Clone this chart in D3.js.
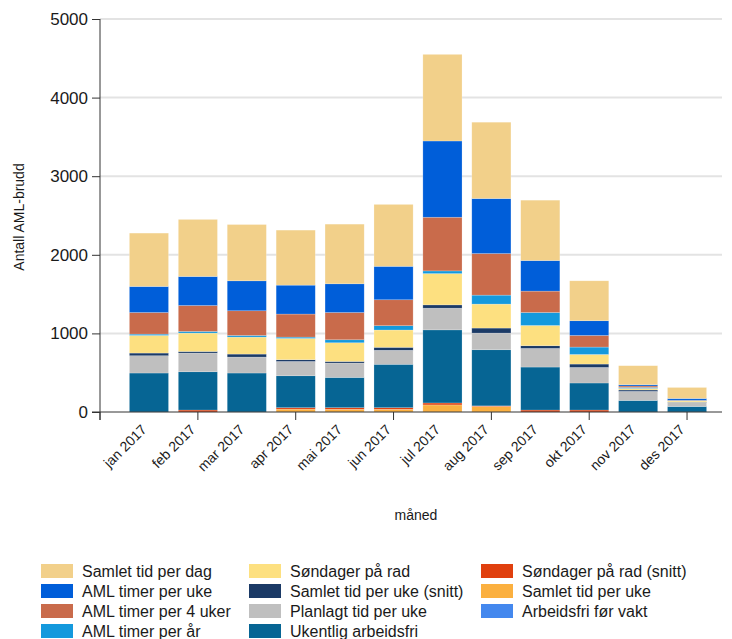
<!DOCTYPE html>
<html>
<head>
<meta charset="utf-8">
<script src="https://cdn.jsdelivr.net/npm/d3@7"></script>
<style>
  body { margin: 0; background: #fff; }
  text { font-family: "Liberation Sans", Arial, sans-serif; fill: #1a1a1a; }
</style>
</head>
<body>
<script>
// months on the x axis
const months = ['jan 2017', 'feb 2017', 'mar 2017', 'apr 2017', 'mai 2017', 'jun 2017',
                'jul 2017', 'aug 2017', 'sep 2017', 'okt 2017', 'nov 2017', 'des 2017'];

// series names, bottom of the stack first
const seriesNames = ['Arbeidsfri før vakt', 'Samlet tid per uke', 'Søndager på rad (snitt)',
  'Ukentlig arbeidsfri', 'Planlagt tid per uke', 'Samlet tid per uke (snitt)', 'Søndager på rad',
  'AML timer per år', 'AML timer per 4 uker', 'AML timer per uke', 'Samlet tid per dag'];

// values per series, one per month
const arbeidsfriForVakt   = [0, 0, 0, 0, 0, 0, 0, 0, 0, 0, 0, 0];
const samletTidUke        = [0, 0, 0, 37, 35, 35, 90, 70, 0, 0, 0, 0];
const sondagerSnitt       = [0, 25, 0, 18, 20, 20, 25, 8, 25, 25, 0, 0];
const ukentligArbeidsfri  = [496, 487, 496, 406, 385, 552, 930, 714, 547, 344, 147, 70];
const planlagtTidUke      = [220, 238, 203, 182, 183, 178, 276, 212, 237, 198, 115, 50];
const samletTidUkeSnitt   = [34, 20, 38, 22, 20, 38, 42, 64, 34, 43, 18, 5];
const sondagerPaRad       = [224, 234, 216, 271, 238, 220, 398, 305, 258, 122, 20, 15];
const amlTimerAr          = [17, 21, 21, 17, 38, 55, 34, 114, 165, 94, 13, 5];
const amlTimer4Uker       = [275, 330, 314, 293, 347, 330, 683, 529, 272, 148, 18, 5];
const amlTimerUke         = [331, 369, 381, 368, 365, 425, 970, 700, 389, 187, 16, 22];
const samletTidDag        = [679, 726, 716, 700, 759, 788, 1102, 971, 768, 508, 242, 140];

const seriesValues = [arbeidsfriForVakt, samletTidUke, sondagerSnitt, ukentligArbeidsfri,
  planlagtTidUke, samletTidUkeSnitt, sondagerPaRad, amlTimerAr, amlTimer4Uker, amlTimerUke, samletTidDag];

const colors = ['#4488ee', '#fbb040', '#e0400e', '#066594', '#bfbfbf', '#1b3a66', '#fde080',
                '#1499dd', '#c96b4b', '#005ed9', '#f2d08a'];

// legend is read column by column, top of the stack first
const legendOrder = ['Samlet tid per dag', 'AML timer per uke', 'AML timer per 4 uker', 'AML timer per år',
  'Søndager på rad', 'Samlet tid per uke (snitt)', 'Planlagt tid per uke', 'Ukentlig arbeidsfri',
  'Søndager på rad (snitt)', 'Samlet tid per uke', 'Arbeidsfri før vakt'];

const yTicks = [0, 1000, 2000, 3000, 4000, 5000];

const width = 732, height = 639;

const svg = d3.select('body')
  .append('svg')
  .attr('width', width)
  .attr('height', height);

// build table for d3.stack
const table = months.map((m, i) => {
  const row = { month: m };
  seriesNames.forEach((s, j) => { row[s] = seriesValues[j][i]; });
  return row;
});
const stacked = d3.stack().keys(seriesNames)(table);

const x = d3.scaleBand()
  .domain(months)
  .range([124.5, 711.5])
  .paddingInner(0.2)
  .paddingOuter(0.1);

const y = d3.scaleLinear()
  .domain([0, 5000])
  .range([412, 19]);

const color = d3.scaleOrdinal().domain(seriesNames).range(colors);

// gridlines
svg.append('g')
  .selectAll('line')
  .data(yTicks.slice(1))
  .join('line')
  .attr('x1', 100).attr('x2', 722)
  .attr('y1', d => y(d)).attr('y2', d => y(d))
  .attr('stroke', '#e3e3e3')
  .attr('stroke-width', 2);

// bars
svg.append('g')
  .selectAll('g')
  .data(stacked)
  .join('g')
  .attr('fill', d => color(d.key))
  .selectAll('rect')
  .data(d => d)
  .join('rect')
  .attr('x', d => x(d.data.month))
  .attr('width', x.bandwidth())
  .attr('y', d => y(d[1]))
  .attr('height', d => y(d[0]) - y(d[1]))
  .attr('stroke', 'rgba(255,255,255,0.35)')
  .attr('stroke-width', 0.6);

// y axis
const yaxis = svg.append('g')
  .attr('transform', 'translate(100, 0)')
  .call(d3.axisLeft(y).tickValues(yTicks).tickFormat(d3.format('d')).tickSize(8).tickPadding(4));
yaxis.select('.domain').attr('d', 'M0,19V420').attr('stroke', '#333');
yaxis.selectAll('.tick line').attr('stroke', '#333');
yaxis.selectAll('.tick text').style('font-size', '17px').attr('fill', '#1a1a1a');

// x axis: labels on every month, tick marks on every other
const xaxis = svg.append('g')
  .attr('transform', 'translate(0, 412)')
  .call(d3.axisBottom(x).tickSize(8).tickSizeOuter(0));
xaxis.select('.domain').attr('d', 'M92,0H722').attr('stroke', '#333');
xaxis.selectAll('.tick line')
  .attr('stroke', '#333')
  .attr('opacity', (d, i) => i % 2 === 1 ? 1 : 0);
xaxis.selectAll('.tick text')
  .style('font-size', '14px')
  .attr('text-anchor', 'end')
  .attr('transform', 'translate(-5, 15) rotate(-45)')
  .attr('y', 0).attr('dy', '0.35em');
// y-axis bottom tick at the origin
svg.append('line')
  .attr('x1', 100).attr('x2', 100).attr('y1', 412).attr('y2', 420)
  .attr('stroke', '#333');

// axis titles
svg.append('text')
  .text('måned')
  .attr('x', 416).attr('y', 520)
  .attr('text-anchor', 'middle')
  .style('font-size', '14px');

svg.append('text')
  .text('Antall AML-brudd')
  .attr('transform', 'translate(24, 217) rotate(-90)')
  .attr('text-anchor', 'middle')
  .style('font-size', '14px');

// legend
const legendCols = [41, 249, 481];
const legend = svg.append('g')
  .selectAll('g')
  .data(legendOrder)
  .join('g')
  .attr('transform', (d, i) => `translate(${legendCols[Math.floor(i / 4)]}, ${571 + (i % 4) * 20})`);
legend.append('rect')
  .attr('x', 0).attr('y', -7)
  .attr('width', 32).attr('height', 14)
  .attr('fill', d => color(d));
legend.append('text')
  .text(d => d)
  .attr('x', 41).attr('y', 5.5)
  .style('font-size', '16px');
</script>
</body>
</html>
